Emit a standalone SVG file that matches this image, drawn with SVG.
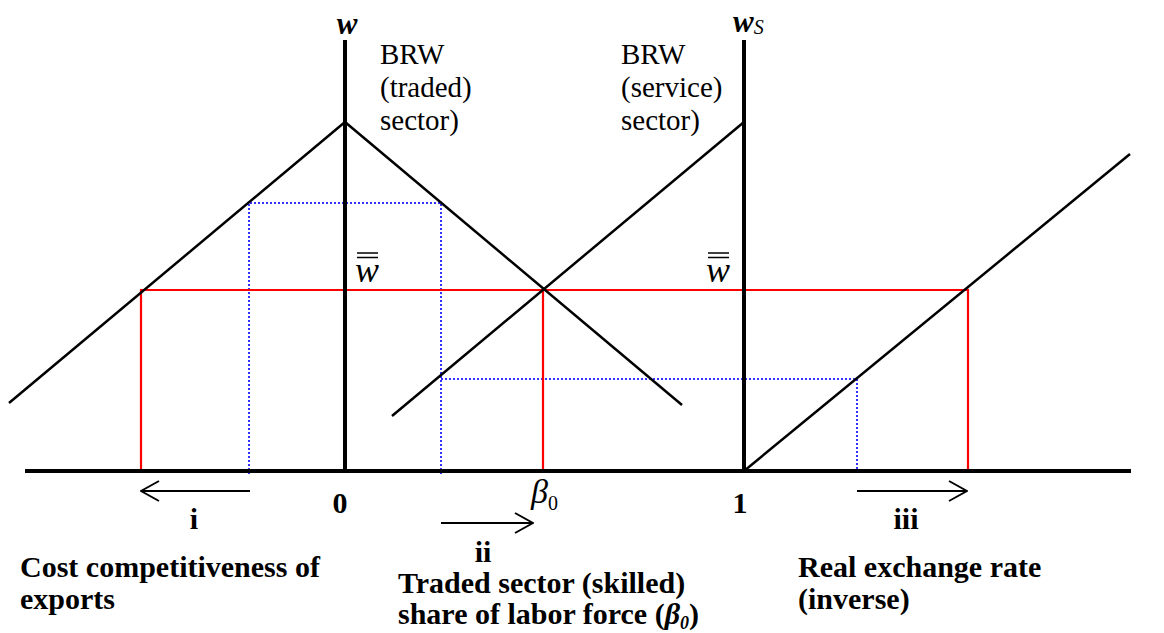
<svg xmlns="http://www.w3.org/2000/svg" width="1164" height="633" viewBox="0 0 1164 633">
<style>
.ax{stroke:#000;stroke-width:4;fill:none}
.cv{stroke:#000;stroke-width:2.5;fill:none}
.rd{stroke:#ff0000;stroke-width:2.2;fill:none}
.bl{stroke:#3333ff;stroke-width:2;stroke-dasharray:2,2;fill:none}
.ar{stroke:#000;stroke-width:2;fill:none}
.lb{font-family:"Liberation Serif",serif;font-size:30px;font-weight:bold;fill:#000}
.rg{font-family:"Liberation Serif",serif;font-size:29px;fill:#000}
.ax-t{font-family:"Liberation Serif",serif;font-weight:bold;font-style:italic;fill:#000}
.wb{font-family:"Liberation Serif",serif;font-style:italic;font-size:36px;fill:#000}
.bar{stroke:#000;stroke-width:1.5}
</style>
<defs>
<marker id="head" viewBox="0 0 20 22" refX="19" refY="11" markerWidth="20" markerHeight="22" markerUnits="userSpaceOnUse" orient="auto">
<path d="M1,1 L19,11 L1,21" fill="none" stroke="#000" stroke-width="2"/>
</marker>
</defs>
<rect width="1164" height="633" fill="#fff"/>
<g id="guides-blue">
<polyline class="bl" points="249,474 249,203 441,203 441,474"/>
<polyline class="bl" points="441,379 857,379 857,471"/>
</g>
<g id="guides-red">
<polyline class="rd" points="141,471 141,290 968,290 968,471"/>
<line class="rd" x1="543" y1="290" x2="543" y2="471"/>
</g>
<g id="curves">
<line class="cv" x1="9" y1="403" x2="345" y2="122"/>
<line class="cv" x1="345" y1="122" x2="682" y2="405"/>
<line class="cv" x1="392" y1="416" x2="744" y2="122"/>
<line class="cv" x1="744" y1="471" x2="1130" y2="154"/>
</g>
<g id="axes">
<line class="ax" x1="25" y1="471" x2="1131" y2="471"/>
<line class="ax" x1="345" y1="40" x2="345" y2="471"/>
<line class="ax" x1="744" y1="40" x2="744" y2="471"/>
</g>
<g id="connectors">
<line class="ar" x1="250" y1="491" x2="141" y2="491" marker-end="url(#head)"/>
<line class="ar" x1="441" y1="523" x2="533" y2="523" marker-end="url(#head)"/>
<line class="ar" x1="857" y1="491" x2="967" y2="491" marker-end="url(#head)"/>
</g>
<g id="label-w"><text class="ax-t" x="347" y="34" font-size="31" text-anchor="middle">w</text></g>
<g id="label-ws"><text class="ax-t" x="733" y="32" font-size="31">w<tspan font-size="20" font-weight="normal" dy="2">S</tspan></text></g>
<g id="label-brw-traded">
<text class="rg" x="380" y="64">BRW</text>
<text class="rg" x="380" y="97">(traded)</text>
<text class="rg" x="380" y="130">sector)</text>
</g>
<g id="label-brw-service">
<text class="rg" x="621" y="64">BRW</text>
<text class="rg" x="621" y="97">(service)</text>
<text class="rg" x="621" y="130">sector)</text>
</g>
<g id="label-wbar1">
<text class="wb" x="355" y="282">w</text>
<line class="bar" x1="357" y1="253" x2="378" y2="253"/>
<line class="bar" x1="357" y1="257.5" x2="378" y2="257.5"/>
</g>
<g id="label-wbar2">
<text class="wb" x="706" y="282">w</text>
<line class="bar" x1="708" y1="253" x2="729" y2="253"/>
<line class="bar" x1="708" y1="257.5" x2="729" y2="257.5"/>
</g>
<g id="label-0"><text class="lb" x="340" y="513" text-anchor="middle">0</text></g>
<g id="label-1"><text class="lb" x="740" y="513" text-anchor="middle">1</text></g>
<g id="label-beta0"><text x="531" y="503" font-family="Liberation Serif,serif" font-style="italic" font-size="34">β<tspan font-style="normal" font-size="20" dy="7">0</tspan></text></g>
<g id="label-i"><text class="lb" x="194" y="529" text-anchor="middle">i</text></g>
<g id="label-ii"><text class="lb" x="483" y="562" text-anchor="middle">ii</text></g>
<g id="label-iii"><text class="lb" x="906" y="529" text-anchor="middle">iii</text></g>
<g id="label-cost">
<text class="lb" x="20" y="577">Cost competitiveness of</text>
<text class="lb" x="20" y="609">exports</text>
</g>
<g id="label-traded">
<text class="lb" x="398" y="593">Traded sector (skilled)</text>
<text class="lb" x="398" y="624">share of labor force (<tspan font-style="italic">β</tspan><tspan font-style="italic" font-size="18" dy="5">0</tspan><tspan dy="-5">)</tspan></text>
</g>
<g id="label-rer">
<text class="lb" x="798" y="577">Real exchange rate</text>
<text class="lb" x="798" y="609">(inverse)</text>
</g>
</svg>
